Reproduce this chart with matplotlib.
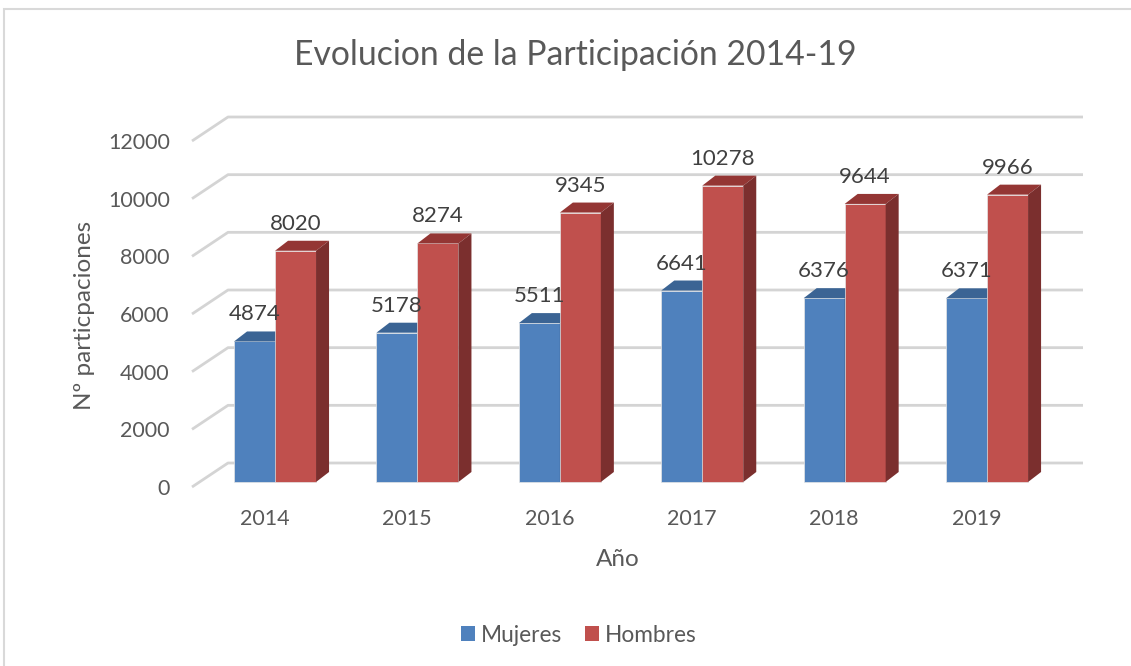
import matplotlib
matplotlib.use('Agg')
import matplotlib.pyplot as plt
from matplotlib.patches import Polygon, Rectangle, Patch
import numpy as np

# ---- data ----
years = ['2014', '2015', '2016', '2017', '2018', '2019']
mujeres = [4874, 5178, 5511, 6641, 6376, 6371]
hombres = [8020, 8274, 9345, 10278, 9644, 9966]
series_names = ['Mujeres', 'Hombres']
yticks = [0, 2000, 4000, 6000, 8000, 10000, 12000]
title = 'Evolucion de la Participación 2014-19'
xlabel = 'Año'
ylabel = 'Nº particpaciones'

plt.rcParams['font.family'] = ['Lato', 'DejaVu Sans']
TXT = '#595959'
GRID = '#d4d4d4'
colors = {
    'Mujeres': ('#4F81BD', '#3B6494', '#385D8A'),
    'Hombres': ('#C0504D', '#943634', '#7B2F2E'),
}

W, H = 1131, 666
fig = plt.figure(figsize=(W / 100, H / 100), dpi=100)
ax_l, ax_r, ax_b, ax_t = 192, 1047, 487, 141
ax = fig.add_axes([ax_l / W, 1 - ax_b / H, (ax_r - ax_l) / W, (ax_b - ax_t) / H])
xlim = (-0.534, 5.470)
ax.set_xlim(*xlim)
ax.set_ylim(yticks[0], yticks[-1])
XS = (ax_r - ax_l) / (xlim[1] - xlim[0])
YS = (ax_b - ax_t) / (yticks[-1] - yticks[0])


def dx(px):
    return px / XS


def dy(px):
    return px / YS


for s in ax.spines.values():
    s.set_visible(False)

# back-wall gridlines with left-side floor diagonals
for v in yticks:
    ax.plot([xlim[0], xlim[0] + dx(36), xlim[1] + dx(36)],
            [v, v + dy(24), v + dy(24)], color=GRID, lw=2.0,
            clip_on=False, zorder=0, solid_capstyle='butt')

x = np.arange(len(years))
w = dx(41)
base = dy(5)
ddx, ddy = dx(13), dy(10)
centers = x + dx(7)

z = 2
for k, (name, vals) in enumerate(zip(series_names, [mujeres, hombres])):
    front, top, side = colors[name]
    lefts = centers - w + k * w
    ax.bar(lefts, vals, width=w, bottom=base, align='edge', color=front,
           edgecolor='#e6e6e6', linewidth=0.5, zorder=z, clip_on=False)
    for x0, v in zip(lefts, vals):
        yt = base + v
        ax.add_patch(Polygon([(x0, yt), (x0 + w, yt), (x0 + w + ddx, yt + ddy),
                              (x0 + ddx, yt + ddy)], closed=True, facecolor=top,
                             edgecolor='none', zorder=z, clip_on=False))
        ax.add_patch(Polygon([(x0 + w, base), (x0 + w + ddx, base + ddy),
                              (x0 + w + ddx, yt + ddy), (x0 + w, yt)], closed=True,
                             facecolor=side, edgecolor='none', zorder=z, clip_on=False))
        ax.annotate(f'{v}', xy=(x0 + w / 2, yt), xytext=(0, 17),
                    textcoords='offset pixels', ha='center', va='bottom',
                    fontsize=16, color='#404040', zorder=10,
                    annotation_clip=False)
    z += 2

# ticks
ax.set_yticks(yticks)
ax.set_yticklabels([str(t) for t in yticks], fontsize=15.5, color=TXT)
ax.tick_params(axis='y', length=0, pad=16)
ax.set_xticks(x - dx(3.5))
ax.set_xticklabels(years, fontsize=15.5, color=TXT)
ax.tick_params(axis='x', length=0, pad=16)

ax.set_xlabel(xlabel, fontsize=17.5, color=TXT)
ax.xaxis.set_label_coords((618 - ax_l) / (ax_r - ax_l), (ax_b - 560) / (ax_b - ax_t))
ax.xaxis.label.set_va('center')
ax.set_ylabel(ylabel, fontsize=17.5, color=TXT)
ax.yaxis.set_label_coords((85 - ax_l) / (ax_r - ax_l), (ax_b - 315) / (ax_b - ax_t))
ax.yaxis.label.set_va('center')

fig.text(575 / W, 1 - 55 / H, title, ha='center', va='center', fontsize=24.3, color=TXT)

handles = [Patch(facecolor=colors[n][0], edgecolor='none') for n in series_names]
fig.legend(handles, series_names, loc='center', bbox_to_anchor=(579 / W, 1 - 635 / H),
           ncol=2, frameon=False, fontsize=16.3, handlelength=0.62, handleheight=0.62,
           handletextpad=0.27, columnspacing=1.0, labelcolor=TXT)

fig.add_artist(Rectangle((4 / W, -0.02), 1.05, 1 - 9 / H + 0.02, transform=fig.transFigure,
                         fill=False, edgecolor='#d9d9d9', lw=1.5))

fig.savefig('out.png', dpi=100, facecolor='white')
